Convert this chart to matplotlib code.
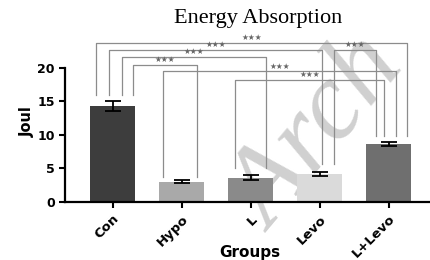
import matplotlib
matplotlib.use("Agg")
import matplotlib.pyplot as plt

groups = ["Con", "Hypo", "L", "Levo", "L+Levo"]
means = [14.3, 3.05, 3.6, 4.15, 8.6]
errors = [0.8, 0.2, 0.35, 0.25, 0.3]
bar_colors = ["#3d3d3d", "#a9a9a9", "#8a8a8a", "#dadada", "#6f6f6f"]

# significance comparisons (group index pairs) and their labels
comp_pairs = [(0, 4), (0, 3), (0, 2), (0, 1), (3, 4), (1, 4), (2, 4)]
comp_labels = ["★★★"] * 7

# layout of the brackets: height, leg offsets from bar centre, leg bottoms
bracket_y = [23.72, 22.68, 21.58, 20.45, 22.68, 19.45, 18.21]
leg_dx = [(-0.243, 0.264), (-0.05, 0.036), (0.138, 0.22), (0.297, 0.229),
          (0.21, -0.186), (-0.268, 0.104), (-0.225, -0.065)]
leg_bottom = [15.9, 3.7, 5.1, 5.6, 9.8]

fig = plt.figure(figsize=(4.31, 2.6), dpi=100)
fig.patch.set_facecolor("white")

# background watermark
fig.text(0.74, 0.48, "Arch", rotation=50, fontsize=80, color="#d0d0d0",
         family="Liberation Serif", style="italic",
         ha="center", va="center", zorder=-1)

ax = fig.add_axes([0.151, 0.223, 0.847, 0.62])
ax.set_facecolor("none")

x = list(range(len(groups)))
ax.bar(x, means, width=0.65, color=bar_colors, zorder=2)
ax.errorbar(x, means, yerr=errors, fmt="none", ecolor="black",
            elinewidth=1.3, capsize=6, capthick=1.3, zorder=3)

for k, (i, j) in enumerate(comp_pairs):
    x1 = i + leg_dx[k][0]
    x2 = j + leg_dx[k][1]
    y = bracket_y[k]
    ax.plot([x1, x1, x2, x2], [leg_bottom[i], y, y, leg_bottom[j]],
            color="#8c8c8c", lw=0.9, clip_on=False, zorder=1)
    ax.text((x1 + x2) / 2, y + 0.1, comp_labels[k], ha="center", va="bottom",
            fontsize=5.5, color="#666666", family="DejaVu Sans")

ax.set_xlim(-0.688, 4.6)
ax.set_ylim(0, 24)
ax.set_yticks([0, 5, 10, 15, 20])
ax.spines["left"].set_bounds(0, 20)
ax.spines["top"].set_visible(False)
ax.spines["right"].set_visible(False)
ax.spines["left"].set_linewidth(1.6)
ax.spines["bottom"].set_linewidth(1.6)
ax.tick_params(axis="both", width=1.5, length=4)

ax.set_xticks(x)
ax.set_xticklabels(groups, rotation=45, ha="right", va="top",
                   rotation_mode="anchor", fontsize=9.5, weight="bold")
for lab in ax.get_yticklabels():
    lab.set_fontsize(9)
    lab.set_fontweight("bold")

ax.set_ylabel("Joul", fontsize=10.5, weight="bold", labelpad=2)
fig.text(0.58, 0.03, "Groups", ha="center", va="center",
         fontsize=11, weight="bold")

fig.text(0.6, 0.93, "Energy Absorption", ha="center", va="center",
         fontsize=16, family="Liberation Serif")

fig.savefig("out.png", dpi=100)
